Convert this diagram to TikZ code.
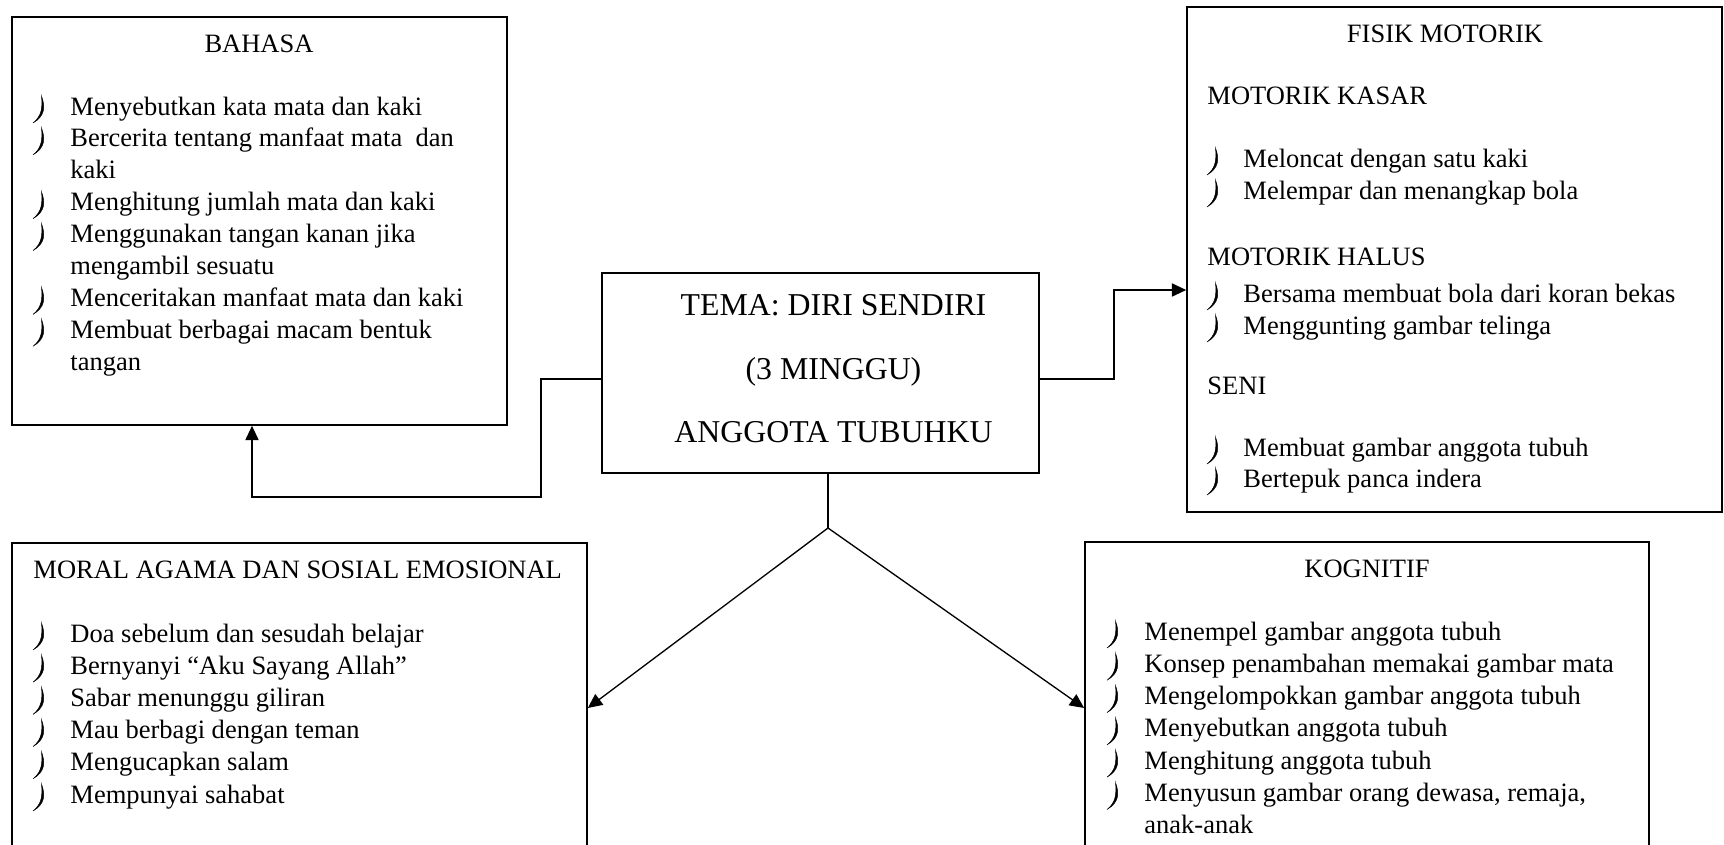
\documentclass[tikz,border=0pt]{standalone}
\usepackage{fontspec}
\setmainfont{Liberation Serif}
\usetikzlibrary{arrows.meta, fit, calc}

\tikzset{
  box/.style={draw=black, line width=0.75pt, inner sep=0pt},
  head/.style={anchor=base, inner sep=0pt, font=\fontsize{12}{14.5}\selectfont},
  item/.style={anchor=base west, inner sep=0pt, font=\fontsize{12}{14.5}\selectfont},
  link/.style={draw=black, line width=0.6pt},
  arr/.style={link, -{Triangle[length=6.5pt, width=6pt]}},
  bul/.pic={\filldraw[line width=0.2pt] (0.5,-19) .. controls (4.5,-8) and (4,1) .. (-8,8) .. controls (1,1) and (1.5,-8) .. cycle;}
}

\begin{document}
\begin{tikzpicture}[x=0.4528pt, y=-0.4528pt]
  \useasboundingbox (0,0) rectangle (1724,845);
  \clip (0,0) rectangle (1724,845);
  % the five boxes
  \node (bahasa) [box, fit={(12,17) (507,425)}] {};%BAHASA box
  \node (tema) [box, fit={(602,273) (1039,473)}] {};%theme box
  \node (fisik) [box, fit={(1187,7) (1722,512)}] {};%FISIK MOTORIK box
  \node (moral) [box, fit={(12,543) (587,880)}] {};%MORAL AGAMA box
  \node (kognitif) [box, fit={(1085,542) (1649,880)}] {};%KOGNITIF box
  % theme text
  \node (tm) [align=center, inner sep=0pt, font=\fontsize{14.4}{28.8}\selectfont] at ($(tema.center)+(13,-4)$) {TEMA: DIRI SENDIRI\\(3 MINGGU)\\ANGGOTA TUBUHKU};
  % BAHASA
  \node (bh) [head] at (259,53) {BAHASA};
  \foreach \t [count=\i from 0] in {Menyebutkan kata mata dan kaki, Bercerita tentang manfaat mata \ dan, kaki, Menghitung jumlah mata dan kaki, Menggunakan tangan kanan jika, mengambil sesuatu, Menceritakan manfaat mata dan kaki, Membuat berbagai macam bentuk, tangan}
    \node (bh\i) [item] at (70,115+31.9*\i) {\t};
  \foreach \i in {0,1,3,4,6,7}
    \pic at (41,115+31.9*\i) {bul};
  % FISIK MOTORIK
  \node (fm) [head] at (1445,42) {FISIK MOTORIK};
  \node (fmk) [item] at (1207,104) {MOTORIK KASAR};
  \node (fmh) [item] at (1207,265) {MOTORIK HALUS};
  \node (fms) [item] at (1207,394) {SENI};
  \foreach \y/\t [count=\i] in {167/Meloncat dengan satu kaki, 199/Melempar dan menangkap bola, 302/Bersama membuat bola dari koran bekas, 334/Menggunting gambar telinga, 456/Membuat gambar anggota tubuh, 487/Bertepuk panca indera}
    {\node (fm\i) [item] at (1243,\y) {\t};
     \pic at (1215,\y) {bul};}
  % MORAL AGAMA DAN SOSIAL EMOSIONAL
  \node (ma) [item] at (33,578) {MORAL AGAMA DAN SOSIAL EMOSIONAL};
  \foreach \t [count=\i from 0] in {Doa sebelum dan sesudah belajar, Bernyanyi “Aku Sayang Allah”, Sabar menunggu giliran, Mau berbagi dengan teman, Mengucapkan salam, Mempunyai sahabat}
    {\node (ma\i) [item] at (70,642+32.2*\i) {\t};
     \pic at (41,642+32.2*\i) {bul};}
  % KOGNITIF
  \node (kg) [head] at (1367,577) {KOGNITIF};
  \foreach \t [count=\i from 0] in {Menempel gambar anggota tubuh, Konsep penambahan memakai gambar mata, Mengelompokkan gambar anggota tubuh, Menyebutkan anggota tubuh, Menghitung anggota tubuh, {Menyusun gambar orang dewasa, remaja,}, anak-anak}
    \node (kg\i) [item] at (1144,640+32.3*\i) {\t};
  \foreach \i in {0,...,5}
    \pic at (1115,640+32.3*\i) {bul};
  % connectors
  \coordinate (lk) at (541,379);
  \coordinate (bb) at (252,497);
  \draw[arr] (tema.west |- lk) -- (lk) |- (bb) -- (bb |- bahasa.south);%to BAHASA
  \coordinate (rk) at (1114,379);
  \coordinate (rt) at (1114,290);
  \draw[arr] (tema.east |- rk) -- (rk) -- (rt) -- (fisik.west |- rt);%to FISIK MOTORIK
  \coordinate (apex) at (828,528);
  \coordinate (tip) at (828,708);
  \draw[link] (tema.south -| apex) -- (apex);%stem
  \draw[arr] (apex) -- (moral.east |- tip);%to MORAL AGAMA
  \draw[arr] (apex) -- (kognitif.west |- tip);%to KOGNITIF
\end{tikzpicture}
\end{document}
